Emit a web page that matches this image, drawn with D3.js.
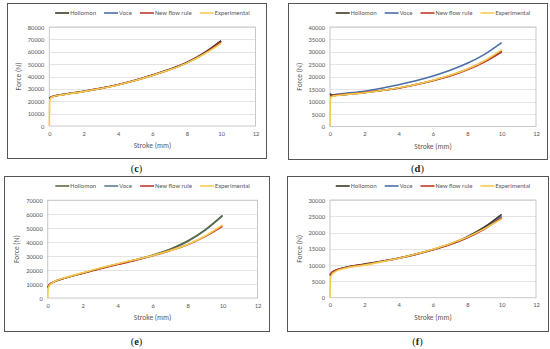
<!DOCTYPE html>
<html><head><meta charset="utf-8">
<script src="https://cdn.jsdelivr.net/npm/d3@7"></script>
<style>body{margin:0;background:#fff}svg{display:block}</style>
</head><body>
<svg id="c" width="550" height="349"></svg>
<script>
// ---- data ----
const seriesNames = ["Hollomon", "Voce", "New flow rule", "Experimental"];
const strokeModel = [0, 0.1, 0.25, 0.5, 1, 2, 3, 4, 5, 6, 7, 8, 9, 10];
const strokeExp = [0, 0.03, 0.1, 0.25, 0.5, 1, 2, 3, 4, 5, 6, 7, 8, 9, 10];
const xTicks = [0, 2, 4, 6, 8, 10, 12];

const hollC = [22000, 23200, 24000, 24800, 25900, 28000, 30500, 33400, 37000, 41200, 45800, 51300, 59000, 69000];
const voceC = [22500, 23400, 24100, 24800, 25900, 28000, 30400, 33300, 36900, 41000, 45600, 51000, 58600, 68500];
const newC  = [22500, 23300, 24000, 24700, 25800, 27900, 30400, 33300, 36800, 40900, 45500, 51000, 58500, 68000];
const expC  = [0, 20500, 22800, 23800, 24600, 25700, 27800, 30300, 33200, 36700, 40800, 45400, 50800, 58000, 66800];

const hollD = [13200, 12700, 12500, 12600, 12900, 13600, 14500, 15500, 16900, 18500, 20500, 23000, 26200, 30300];
const voceD = [12400, 12500, 12700, 13000, 13400, 14200, 15400, 16800, 18400, 20300, 22600, 25400, 29000, 33700];
const newD  = [12300, 12400, 12500, 12700, 13000, 13600, 14500, 15500, 16800, 18400, 20300, 22800, 25900, 29900];
const expD  = [0, 11000, 12000, 12300, 12500, 12900, 13600, 14500, 15600, 16900, 18600, 20600, 23100, 26400, 30800];

const hollE = [7000, 9500, 10800, 12300, 14300, 17800, 21200, 24300, 27300, 30700, 35000, 40800, 48800, 59200];
const voceE = [7500, 9700, 10900, 12300, 14300, 17800, 21100, 24200, 27200, 30600, 34800, 40500, 48500, 58800];
const newE  = [7500, 9800, 11000, 12400, 14400, 17800, 21000, 24000, 26900, 30200, 33900, 38200, 44000, 51300];
const expE  = [0, 7000, 9000, 10800, 12500, 14600, 18100, 21500, 24600, 27400, 30400, 34000, 38400, 44400, 52400];

const hollF = [6800, 7600, 8100, 8700, 9400, 10300, 11200, 12200, 13400, 14800, 16500, 18700, 21700, 25600];
const voceF = [7000, 7700, 8200, 8700, 9400, 10200, 11100, 12100, 13300, 14700, 16400, 18500, 21300, 25000];
const newF  = [7000, 7700, 8200, 8700, 9300, 10200, 11100, 12100, 13300, 14700, 16300, 18400, 21100, 24600];
const expF  = [0, 6000, 7000, 7800, 8500, 9200, 10000, 11000, 12100, 13400, 14900, 16600, 18600, 21200, 24200];

const yTicksC = [0, 10000, 20000, 30000, 40000, 50000, 60000, 70000, 80000];
const yTicksD = [0, 5000, 10000, 15000, 20000, 25000, 30000, 35000, 40000];
const yTicksE = [0, 10000, 20000, 30000, 40000, 50000, 60000, 70000];
const yTicksF = [0, 5000, 10000, 15000, 20000, 25000, 30000];
const panelLabels = ["c", "d", "e", "f"];

// ---- layout ----
const yellow = "#f5cb4f";
const panels = [
  {lab: panelLabels[0], frame: [7, 3, 266, 158], plot: [49.3, 27, 255.5, 126], yTicks: yTicksC,
   data: [hollC, voceC, newC, expC], colors: ["#3c3a2a", "#4a6fa5", "#c0392b", yellow], legY: 13, labY: 168},
  {lab: panelLabels[1], frame: [288, 3, 547, 159], plot: [330, 27, 536, 126.5], yTicks: yTicksD,
   data: [hollD, voceD, newD, expD], colors: ["#3c3a2a", "#4a6fa5", "#c0392b", yellow], legY: 13, labY: 168},
  {lab: panelLabels[2], frame: [4, 176, 269, 331], plot: [47.7, 200.3, 257.5, 298], yTicks: yTicksE,
   data: [hollE, voceE, newE, expE], colors: ["#5d6b47", "#5b7f8f", "#c0392b", yellow], legY: 186, labY: 341},
  {lab: panelLabels[3], frame: [287, 176, 548, 331], plot: [330, 200, 536, 297.7], yTicks: yTicksF,
   data: [hollF, voceF, newF, expF], colors: ["#3c3a2a", "#4a6fa5", "#c0392b", yellow], legY: 186, labY: 341}
];
const drawOrder = [1, 0, 2, 3];

const svg = d3.select("#c");
const font = "Calibri, Carlito, 'Liberation Sans', sans-serif";

panels.forEach(p => {
  const g = svg.append("g");
  const [fx0, fy0, fx1, fy1] = p.frame;
  g.append("rect").attr("x", fx0 + 0.5).attr("y", fy0 + 0.5).attr("width", fx1 - fx0).attr("height", fy1 - fy0)
    .attr("fill", "#fff").attr("stroke", "#555").attr("stroke-width", 1);

  const [px0, py0, px1, py1] = p.plot;
  const x = d3.scaleLinear().domain([0, 12]).range([px0, px1]);
  const yMax = p.yTicks[p.yTicks.length - 1];
  const y = d3.scaleLinear().domain([0, yMax]).range([py1, py0]);

  // gridlines
  g.append("g").selectAll("line").data(p.yTicks.slice(1)).join("line")
    .attr("x1", px0).attr("x2", px1).attr("y1", d => Math.round(y(d)) + 0.5).attr("y2", d => Math.round(y(d)) + 0.5)
    .attr("stroke", "#e4e4e4").attr("stroke-width", 1);
  g.append("rect").attr("x", px0).attr("y", py0).attr("width", px1 - px0).attr("height", py1 - py0)
    .attr("fill", "none").attr("stroke", "#c8c8c8").attr("stroke-width", 1);

  // axes
  const yAxis = d3.axisLeft(y).tickValues(p.yTicks).tickSize(0).tickPadding(5).tickFormat(d3.format("d"));
  const ya = g.append("g").attr("transform", `translate(${px0},0)`).call(yAxis);
  ya.select(".domain").remove();
  ya.selectAll("text").attr("font-family", font).attr("font-size", 6.5).attr("fill", "#595959");

  const xAxis = d3.axisBottom(x).tickValues(xTicks).tickSize(0).tickPadding(5);
  const xa = g.append("g").attr("transform", `translate(0,${py1})`).call(xAxis);
  xa.select(".domain").remove();
  xa.selectAll("text").attr("font-family", font).attr("font-size", 6.5).attr("fill", "#595959");

  // axis titles
  g.append("text").attr("x", (px0 + px1) / 2).attr("y", py1 + 22).attr("text-anchor", "middle")
    .attr("font-family", font).attr("font-size", 7.5).attr("fill", "#595959").text("Stroke (mm)");
  g.append("text").attr("transform", `translate(${px0 - 28.5},${(py0 + py1) / 2}) rotate(-90)`)
    .attr("text-anchor", "middle").attr("font-family", font).attr("font-size", 7.5).attr("fill", "#595959").text("Force (N)");

  // lines
  const line = d3.line().x(d => x(d[0])).y(d => y(d[1])).curve(d3.curveMonotoneX);
  drawOrder.forEach(i => {
    const vals = p.data[i];
    const xs = i === 3 ? strokeExp : strokeModel;
    g.append("path").datum(xs.map((s, k) => [s, vals[k]]))
      .attr("d", line).attr("fill", "none").attr("stroke", p.colors[i]).attr("stroke-width", 1.6);
  });

  // legend
  const leg = g.append("g");
  let cx = 0;
  seriesNames.forEach((nm, i) => {
    const it = leg.append("g").attr("transform", `translate(${cx},0)`);
    it.append("line").attr("x1", 0).attr("x2", 14).attr("y1", 0).attr("y2", 0).attr("stroke", p.colors[i]).attr("stroke-width", 1.6);
    const t = it.append("text").attr("x", 15).attr("y", 2.3).attr("font-family", font).attr("font-size", 6.5)
      .attr("fill", "#595959").text(nm);
    const w = t.node().getComputedTextLength();
    cx += 15 + w + 8;
  });
  const totalW = cx - 8;
  leg.attr("transform", `translate(${(px0 + px1) / 2 - totalW / 2},${p.legY})`);

  // panel label
  const lt = svg.append("text").attr("x", (fx0 + fx1) / 2).attr("y", p.labY + 3.5).attr("text-anchor", "middle")
    .attr("font-family", "'Liberation Serif', 'Times New Roman', serif").attr("font-size", 10.5).attr("fill", "#222");
  lt.append("tspan").text("(");
  lt.append("tspan").attr("font-weight", "bold").text(p.lab);
  lt.append("tspan").text(")");
});
</script>
</body></html>
